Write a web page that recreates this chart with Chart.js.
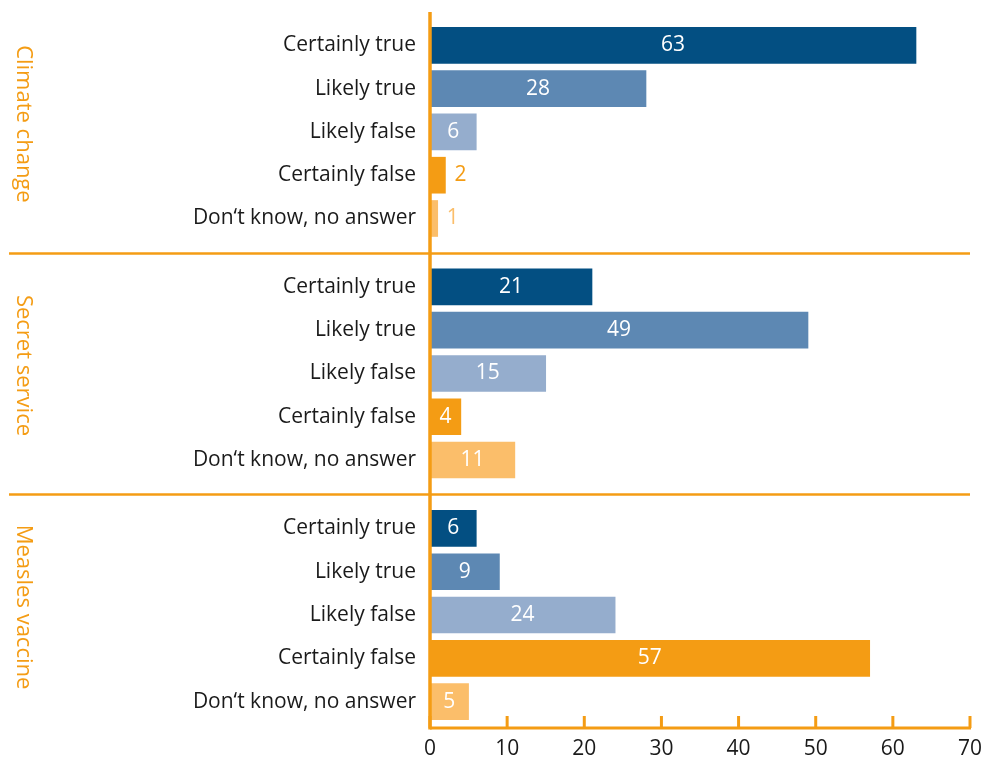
<!DOCTYPE html>
<html>
<head>
<meta charset="utf-8">
<script src="https://cdn.jsdelivr.net/npm/chart.js@4/dist/chart.umd.min.js"></script>
<style>
  html, body { margin: 0; padding: 0; background: #fff; }
  .chart-container { position: relative; width: 987px; height: 760px; }
</style>
</head>
<body>
<div class="chart-container"><canvas id="surveyChart"></canvas></div>
<script>
// --- data ---
const groupNames = ['Climate change', 'Secret service', 'Measles vaccine'];
const answerLabels = ['Certainly true', 'Likely true', 'Likely false', 'Certainly false', 'Don‘t know, no answer'];
const climateValues = [63, 28, 6, 2, 1];
const secretServiceValues = [21, 49, 15, 4, 11];
const measlesValues = [6, 9, 24, 57, 5];
const xTicks = [0, 10, 20, 30, 40, 50, 60, 70];

// --- styling ---
const ORANGE = '#f49c14';
const TEXT = '#1a1a1a';
const FONT = '"Open Sans", sans-serif';
const answerColors = ['#034f82', '#5d88b3', '#95adcd', '#f49c14', '#fbbe6a'];
const GROUP_STEP = 5.58; // row units from one group start to the next (5 rows + gap)

document.addEventListener('DOMContentLoaded', () => {
    const ctx = document.getElementById('surveyChart').getContext('2d');
    const groupValues = [climateValues, secretServiceValues, measlesValues];

    const points = [];
    const colors = [];
    groupValues.forEach((vals, g) => {
        vals.forEach((v, i) => {
            points.push({ x: v, y: g * GROUP_STEP + i });
            colors.push(answerColors[i]);
        });
    });

    // axis lines, separators, group titles and value labels
    const decorations = {
        id: 'decorations',
        afterDatasetsDraw(chart) {
            const c = chart.ctx;
            const xs = chart.scales.x;
            const ys = chart.scales.y;
            const area = chart.chartArea;

            // value labels
            const meta = chart.getDatasetMeta(0);
            c.save();
            c.font = '21px ' + FONT;
            c.textBaseline = 'middle';
            c.textAlign = 'center';
            meta.data.forEach((bar, idx) => {
                const v = points[idx].x;
                if (v >= 3) {
                    c.fillStyle = '#ffffff';
                    c.fillText(String(v), (bar.base + bar.x) / 2, bar.y);
                } else {
                    c.fillStyle = colors[idx];
                    c.fillText(String(v), bar.x + 15, bar.y);
                }
            });
            c.restore();

            c.save();
            c.strokeStyle = ORANGE;
            c.fillStyle = ORANGE;

            // group separators
            c.lineWidth = 2.5;
            for (let g = 1; g < groupNames.length; g++) {
                const y = Math.round(ys.getPixelForValue(g * GROUP_STEP - (GROUP_STEP - 4) / 2)) + 0.5;
                c.beginPath();
                c.moveTo(9, y);
                c.lineTo(area.right, y);
                c.stroke();
            }

            // bottom axis with upward ticks
            c.lineWidth = 3;
            c.beginPath();
            c.moveTo(area.left, area.bottom);
            c.lineTo(area.right + 1, area.bottom);
            c.stroke();
            xTicks.forEach(t => {
                const x = xs.getPixelForValue(t);
                c.beginPath();
                c.moveTo(x, area.bottom);
                c.lineTo(x, area.bottom - 12);
                c.stroke();
            });

            // vertical zero line
            c.lineWidth = 3.5;
            c.beginPath();
            c.moveTo(area.left, area.top);
            c.lineTo(area.left, area.bottom + 1.5);
            c.stroke();

            // rotated group titles
            c.font = '22px ' + FONT;
            c.textAlign = 'center';
            c.textBaseline = 'middle';
            groupNames.forEach((name, g) => {
                const y = ys.getPixelForValue(g * GROUP_STEP + 2) - 8;
                c.save();
                c.translate(23, y);
                c.rotate(Math.PI / 2);
                c.fillText(name, 0, 0);
                c.restore();
            });
            c.restore();
        }
    };

    new Chart(ctx, {
        type: 'bar',
        data: {
            datasets: [{
                data: points,
                backgroundColor: colors,
                borderWidth: 0,
                barThickness: 36
            }]
        },
        options: {
            indexAxis: 'y',
            responsive: true,
            maintainAspectRatio: false,
            animation: false,
            layout: { padding: { top: 12, right: 17, bottom: 0, left: 0 } },
            scales: {
                x: {
                    type: 'linear',
                    bounds: 'data',
                    offset: false,
                    min: 0,
                    max: 70,
                    grid: { display: false, drawTicks: false },
                    border: { display: false },
                    afterBuildTicks: scale => { scale.ticks = xTicks.map(v => ({ value: v })); },
                    afterFit: scale => {
                        scale.height = 32;
                        scale.paddingLeft = 0;
                        scale.paddingRight = 0;
                    },
                    ticks: { color: TEXT, font: { family: FONT, size: 21 }, padding: 8 }
                },
                y: {
                    type: 'linear',
                    bounds: 'data',
                    offset: false,
                    reverse: true,
                    min: -0.77,
                    max: 15.77,
                    grid: { display: false, drawTicks: false, offset: false },
                    border: { display: false },
                    afterBuildTicks: scale => { scale.ticks = points.map(p => ({ value: p.y })); },
                    afterFit: scale => {
                        scale.width = 430;
                        scale.paddingTop = 0;
                        scale.paddingBottom = 0;
                    },
                    ticks: {
                        autoSkip: false,
                        color: TEXT,
                        font: { family: FONT, size: 21 },
                        padding: 14,
                        callback: (value, index) => answerLabels[index % answerLabels.length]
                    }
                }
            },
            plugins: {
                legend: { display: false },
                tooltip: { enabled: false }
            }
        },
        plugins: [decorations]
    });
});
</script>
</body>
</html>
